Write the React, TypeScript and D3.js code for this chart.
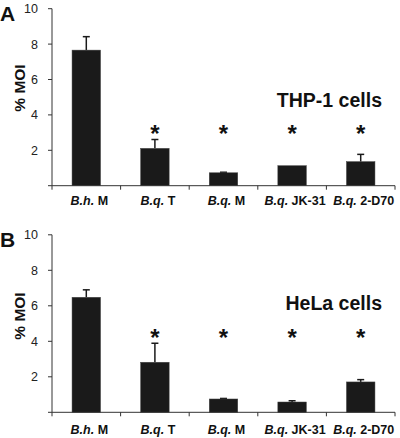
import React from "react";
import * as d3 from "d3";

const strains = ["B.h.|M", "B.q.|T", "B.q.|M", "B.q.|JK-31", "B.q.|2-D70"];
const thp1Values = [7.66, 2.11, 0.73, 1.13, 1.36];
const thp1Errors = [0.76, 0.5, 0.03, 0, 0.41];
const thp1Stars = [false, true, true, true, true];
const helaValues = [6.48, 2.82, 0.75, 0.58, 1.71];
const helaErrors = [0.42, 1.07, 0.03, 0.07, 0.13];
const helaStars = [false, true, true, true, true];
const yTicks = [2, 4, 6, 8, 10];

const W = 400;
const H = 438;
const font = "Arial, 'Liberation Sans', Helvetica, sans-serif";

type PanelProps = {
  letter: string;
  title: string;
  values: number[];
  errors: number[];
  stars: boolean[];
  top: number;
  bottom: number;
  starY: number;
  titleY: number;
  labelY: number;
  yLabelCenter: number;
};

function Panel(p: PanelProps) {
  const x = d3.scaleBand<string>().domain(strains).range([52, 395]).paddingInner(0).paddingOuter(0);
  const y = d3.scaleLinear().domain([0, 10]).range([p.bottom, p.top]);
  const bw = 28.5;
  const bandEdges = strains.map((s) => x(s)!).concat([395]);
  return (
    <g>
      <text x={0} y={p.top + 12} fontFamily={font} fontWeight="bold" fontSize={21} fill="#111">
        {p.letter}
      </text>
      {/* y axis */}
      <line x1={52} x2={52} y1={p.top} y2={p.bottom} stroke="#333" strokeWidth={1} />
      {[0, ...yTicks].map((t) => (
        <line key={t} x1={48} x2={52} y1={y(t)} y2={y(t)} stroke="#333" strokeWidth={1} />
      ))}
      {yTicks.map((t) => (
        <text key={t} x={38} y={y(t)} dy="0.36em" textAnchor="end" fontFamily={font} fontSize={12.5} fill="#222">
          {t}
        </text>
      ))}
      <text
        transform={`translate(25,${p.yLabelCenter}) rotate(-90)`}
        textAnchor="middle"
        fontFamily={font}
        fontWeight="bold"
        fontSize={15.5}
        fill="#111"
      >
        % MOI
      </text>
      {/* bars */}
      {strains.map((s, i) => {
        const cx = x(s)! + x.bandwidth() / 2;
        return (
          <g key={s}>
            {p.errors[i] > 0 && (
              <g stroke="#1a1a1a" strokeWidth={1.5}>
                <line x1={cx} x2={cx} y1={y(p.values[i])} y2={y(p.values[i] + p.errors[i])} />
                <line x1={cx - 3.5} x2={cx + 3.5} y1={y(p.values[i] + p.errors[i])} y2={y(p.values[i] + p.errors[i])} />
              </g>
            )}
            <rect
              x={cx - bw / 2}
              y={y(p.values[i])}
              width={bw}
              height={p.bottom - y(p.values[i])}
              fill="#1a1a1a"
              stroke="#444"
              strokeWidth={0.5}
            />
            {p.stars[i] && (
              <text x={cx} y={p.starY + 13} textAnchor="middle" fontFamily={font} fontWeight="bold" fontSize={24} fill="#111">
                *
              </text>
            )}
            <text x={cx + 3} y={p.labelY} textAnchor="middle" fontFamily={font} fontWeight="bold" fontSize={12.5} fill="#111">
              <tspan fontStyle="italic">{s.split("|")[0]}</tspan>
              <tspan> {s.split("|")[1]}</tspan>
            </text>
          </g>
        );
      })}
      {/* x axis */}
      <line x1={52} x2={395} y1={p.bottom} y2={p.bottom} stroke="#333" strokeWidth={1} />
      {bandEdges.map((e, i) => (
        <line key={i} x1={e} x2={e} y1={p.bottom} y2={p.bottom + 4} stroke="#333" strokeWidth={1} />
      ))}
      <text x={382} y={p.titleY} textAnchor="end" fontFamily={font} fontWeight="bold" fontSize={19.5} fill="#111">
        {p.title}
      </text>
    </g>
  );
}

export default function App() {
  return (
    <svg width={W} height={H} style={{ position: "absolute", left: 0, top: 0, background: "#fff" }}>
      <Panel
        letter="A"
        title="THP-1 cells"
        values={thp1Values}
        errors={thp1Errors}
        stars={thp1Stars}
        top={8.7}
        bottom={185.7}
        starY={129}
        titleY={107}
        labelY={205}
        yLabelCenter={88}
      />
      <Panel
        letter="B"
        title="HeLa cells"
        values={helaValues}
        errors={helaErrors}
        stars={helaStars}
        top={234.8}
        bottom={412.3}
        starY={333}
        titleY={310}
        labelY={434}
        yLabelCenter={316}
      />
    </svg>
  );
}
